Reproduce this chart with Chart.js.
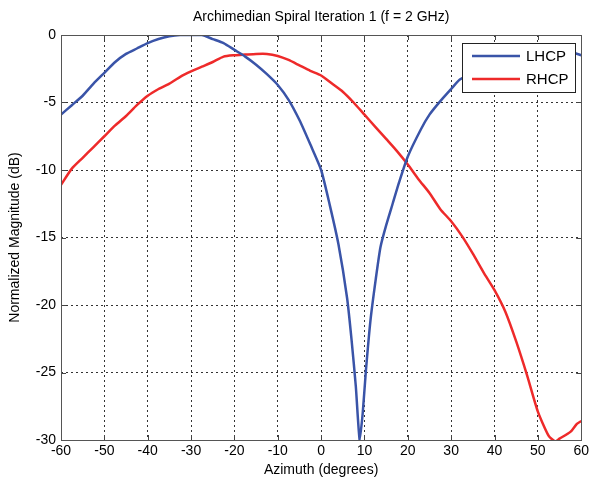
<!DOCTYPE html>
<html>
<head>
<meta charset="utf-8">
<script src="https://cdn.jsdelivr.net/npm/chart.js@4/dist/chart.umd.min.js"></script>
<style>
    html, body { margin: 0; padding: 0; background: #fff; }
    #wrap { width: 592px; height: 482px; }
</style>
</head>
<body>
<div id="wrap"><canvas id="chart" width="592" height="482"></canvas></div>
<script>
// Values
const chartTitle = "Archimedian Spiral Iteration 1 (f = 2 GHz)";

const lhcpAz  = [-60, -57.5, -55, -52.5, -50, -47.5, -45, -42.5, -40, -37.5, -35, -32.5, -30, -27.5, -25, -22.5, -20, -17.5, -15, -12.5, -10, -7.5, -5, -2.5, 0, 2, 4, 6, 7, 8, 8.9, 9.6, 10.3, 11.4, 12.6, 13.7, 15, 16.5, 18, 20, 23, 25, 27.5, 30, 32, 35, 40, 45, 50, 55, 58, 60];
const lhcpMag = [-5.9, -5.2, -4.5, -3.6, -2.8, -2.0, -1.4, -1.0, -0.6, -0.3, -0.1, 0, 0, 0, -0.3, -0.6, -1.1, -1.6, -2.2, -2.9, -3.7, -4.8, -6.3, -8.1, -10.0, -12.6, -15.5, -19.5, -22.5, -26, -30, -28, -25, -21.1, -18.1, -15.7, -14.1, -12.5, -10.9, -9.0, -7.0, -5.9, -4.9, -4.0, -3.3, -2.8, -2.2, -1.7, -1.4, -1.25, -1.3, -1.5];

const rhcpAz  = [-60, -57.5, -55, -52.5, -50, -47.5, -45, -42.5, -40, -37.5, -35, -32.5, -30, -27.5, -25, -22.5, -20, -17.5, -15, -12.5, -10, -7.5, -5, -2.5, 0, 2.5, 5, 7.5, 10, 12.5, 15, 17.5, 20, 22.5, 25, 27.5, 30, 32.5, 35, 37.5, 40, 42.5, 45, 47.5, 50, 52.5, 54, 55, 57.5, 59, 60];
const rhcpMag = [-11.1, -9.9, -9.1, -8.3, -7.5, -6.7, -6.0, -5.2, -4.5, -4.0, -3.6, -3.1, -2.7, -2.35, -2.0, -1.6, -1.5, -1.45, -1.4, -1.4, -1.55, -1.85, -2.25, -2.65, -3.0, -3.6, -4.2, -5.0, -5.9, -6.8, -7.7, -8.6, -9.6, -10.7, -11.7, -12.9, -13.8, -14.9, -16.2, -17.6, -18.9, -20.5, -22.7, -25.2, -27.9, -29.7, -30.1, -29.9, -29.4, -28.8, -28.6];

const seriesNames  = ["LHCP", "RHCP"];
const seriesColors = ["#3a54a8", "#ee2a2a"];

const xTicks = { min: -60, max: 60, step: 10 };
const yTicks = { min: -30, max: 0, step: 5 };

const FONT = "'Liberation Sans', Arial, sans-serif";

function toPoints(xs, ys)
{
    return xs.map((x, i) => ({ x: x, y: ys[i] }));
}

// Box, inward tick marks, title and in-plot legend, MATLAB style
const matlabFrame =
{
    id: 'matlabFrame',

    afterDraw(chart)
    {
        const ctx = chart.ctx;
        const a = chart.chartArea;
        const xs = chart.scales.x;
        const ys = chart.scales.y;

        ctx.save();

        // tick marks
        ctx.strokeStyle = '#444';
        ctx.lineWidth = 1;
        ctx.beginPath();
        for (let v = xTicks.min; v <= xTicks.max; v += xTicks.step)
        {
            const px = Math.round(xs.getPixelForValue(v)) + 0.5;
            ctx.moveTo(px, a.top);
            ctx.lineTo(px, a.top + 5);
            ctx.moveTo(px, a.bottom);
            ctx.lineTo(px, a.bottom - 5);
        }
        for (let v = yTicks.min; v <= yTicks.max; v += yTicks.step)
        {
            const py = Math.round(ys.getPixelForValue(v)) + 0.5;
            ctx.moveTo(a.left, py);
            ctx.lineTo(a.left + 5, py);
            ctx.moveTo(a.right, py);
            ctx.lineTo(a.right - 5, py);
        }
        ctx.stroke();

        // box
        ctx.strokeStyle = '#555';
        ctx.strokeRect(Math.round(a.left) + 0.5, Math.round(a.top) + 0.5,
                       Math.round(a.right - a.left), Math.round(a.bottom - a.top));

        // title
        ctx.fillStyle = '#000';
        ctx.font = '14px ' + FONT;
        ctx.textAlign = 'center';
        ctx.textBaseline = 'middle';
        ctx.fillText(chartTitle, (a.left + a.right) / 2, 17);

        // legend
        const lx = 462.5, ly = 43.5, lw = 113, lh = 49;
        ctx.fillStyle = '#fff';
        ctx.fillRect(lx, ly, lw, lh);
        ctx.strokeStyle = '#222';
        ctx.strokeRect(lx, ly, lw, lh);

        ctx.font = '15px ' + FONT;
        ctx.textAlign = 'left';
        chart.data.datasets.forEach((ds, i) =>
        {
            const yy = 56 + i * 23;
            ctx.strokeStyle = ds.borderColor;
            ctx.lineWidth = 2.5;
            ctx.beginPath();
            ctx.moveTo(472, yy);
            ctx.lineTo(520, yy);
            ctx.stroke();
            ctx.fillStyle = '#000';
            ctx.fillText(ds.label, 526, yy + 1);
        });

        ctx.restore();
    }
};

const gridStyle =
{
    color: '#333',
    lineWidth: 1,
    tickLength: 0,
    drawTicks: false
};

new Chart(document.getElementById('chart'),
{
    type: 'line',

    data:
    {
        datasets:
        [
            {
                label: seriesNames[0],
                data: toPoints(lhcpAz, lhcpMag),
                borderColor: seriesColors[0],
                borderWidth: 2.5,
                pointRadius: 0,
                tension: 0.2
            },
            {
                label: seriesNames[1],
                data: toPoints(rhcpAz, rhcpMag),
                borderColor: seriesColors[1],
                borderWidth: 2.5,
                pointRadius: 0,
                tension: 0.2
            }
        ]
    },

    options:
    {
        responsive: false,
        animation: false,
        devicePixelRatio: 1,

        layout:
        {
            padding: { top: 35, right: 9, left: 0, bottom: 0 }
        },

        plugins:
        {
            legend: { display: false },
            title: { display: false },
            tooltip: { enabled: false }
        },

        scales:
        {
            x:
            {
                type: 'linear',
                min: xTicks.min,
                max: xTicks.max,
                grid: gridStyle,
                border: { display: false, dash: [2, 3] },
                ticks:
                {
                    stepSize: xTicks.step,
                    color: '#000',
                    padding: 3,
                    maxRotation: 0,
                    font: { family: FONT, size: 14 }
                },
                title:
                {
                    display: true,
                    text: 'Azimuth (degrees)',
                    color: '#000',
                    padding: { top: 0, bottom: 3 },
                    font: { family: FONT, size: 14 }
                },
                afterFit: (scale) => { scale.height = 42; }
            },

            y:
            {
                type: 'linear',
                min: yTicks.min,
                max: yTicks.max,
                grid: gridStyle,
                border: { display: false, dash: [2, 3] },
                ticks:
                {
                    stepSize: yTicks.step,
                    color: '#000',
                    padding: 5,
                    font: { family: FONT, size: 14 }
                },
                title:
                {
                    display: true,
                    text: 'Normalized Magnitude (dB)',
                    color: '#000',
                    padding: { top: 7, bottom: 0 },
                    font: { family: FONT, size: 14 }
                },
                afterFit: (scale) => { scale.width = 61; }
            }
        }
    },

    plugins: [matlabFrame]
});
</script>
</body>
</html>
